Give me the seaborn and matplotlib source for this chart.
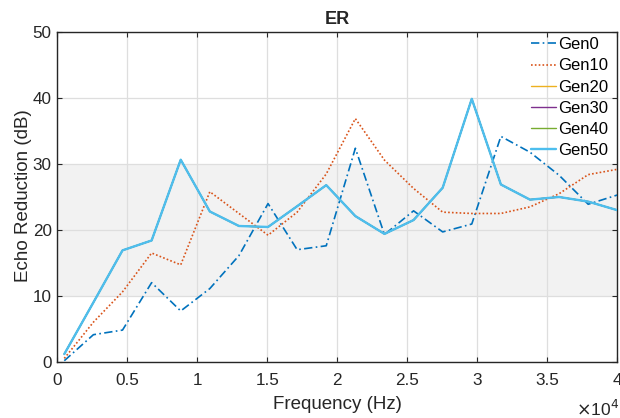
import numpy as np
import pandas as pd
import matplotlib
matplotlib.use("Agg")
import matplotlib.pyplot as plt
from matplotlib.ticker import FixedLocator, FuncFormatter
import seaborn as sns

# Frequency sweep (Hz)
freq = np.linspace(500, 40000, 20)

gen0 = [0.15, 4.1, 4.8, 12.0, 7.7, 11.1, 16.1, 24.0, 17.0, 17.6,
        32.4, 19.3, 22.9, 19.7, 20.9, 34.2, 31.8, 28.3, 23.9, 25.3]
gen10 = [0.5, 6.0, 10.6, 16.5, 14.7, 25.8, 22.5, 19.2, 22.7, 28.5,
         36.9, 30.6, 26.3, 22.7, 22.5, 22.5, 23.5, 25.5, 28.4, 29.2]
gen20 = [1.16, 9.0, 16.9, 18.4, 30.66, 22.8, 20.6, 20.45, 23.6, 26.8,
         22.1, 19.4, 21.5, 26.4, 39.9, 26.9, 24.6, 25.0, 24.3, 23.0]
gen30 = list(gen20)
gen40 = list(gen20)
gen50 = list(gen20)

series_names = ["Gen0", "Gen10", "Gen20", "Gen30", "Gen40", "Gen50"]
series_values = [gen0, gen10, gen20, gen30, gen40, gen50]

x_ticks = [0, 5000, 10000, 15000, 20000, 25000, 30000, 35000, 40000]
y_ticks = [0, 10, 20, 30, 40, 50]

colors = {"Gen0": "#0072BD", "Gen10": "#D95319", "Gen20": "#EDB120",
          "Gen30": "#7E2F8E", "Gen40": "#77AC30", "Gen50": "#4DBEEE"}
styles = {"Gen0": (0, (5, 2, 1, 2)), "Gen10": (0, (1, 1.3)),
          "Gen20": "-", "Gen30": "-", "Gen40": "-", "Gen50": "-"}
widths = {"Gen0": 1.2, "Gen10": 1.2, "Gen20": 1.0, "Gen30": 1.0,
          "Gen40": 1.0, "Gen50": 1.7}

sns.set_theme(style="white")
plt.rcParams["font.family"] = ["Liberation Sans", "DejaVu Sans"]
text_color = "#262626"

W, H = 620, 418
fig = plt.figure(figsize=(W / 100, H / 100), dpi=100)
ax = fig.add_axes([57.3 / W, 1 - 361.7 / H, 560 / W, (361.7 - 32.3) / H])

# shaded target band
ax.axhspan(10, 30, color="#f2f2f2", zorder=0, lw=0)

for name, vals in zip(series_names, series_values):
    df = pd.DataFrame({"Frequency": freq, "ER": vals})
    sns.lineplot(data=df, x="Frequency", y="ER", ax=ax, color=colors[name],
                 linestyle=styles[name], linewidth=widths[name], label=name,
                 zorder=3)

ax.set_xlim(0, 40000)
ax.set_ylim(0, 50)
ax.xaxis.set_major_locator(FixedLocator(x_ticks))
ax.yaxis.set_major_locator(FixedLocator(y_ticks))
ax.xaxis.set_major_formatter(FuncFormatter(lambda v, p: f"{v / 1e4:g}"))
ax.grid(True, color="#dedede", linewidth=0.9, zorder=1)
ax.set_axisbelow(True)

for sp in ax.spines.values():
    sp.set_color(text_color)
    sp.set_linewidth(1.0)
    sp.set_visible(True)

ax.tick_params(axis="both", which="both", direction="in", length=3.6,
               width=0.8, colors=text_color, labelsize=12.3,
               top=True, right=True, bottom=True, left=True)
ax.tick_params(axis="x", pad=8)
ax.tick_params(axis="y", pad=4)

ax.set_xlabel("Frequency (Hz)", fontsize=13.5, color=text_color)
ax.set_ylabel("Echo Reduction (dB)", fontsize=13.5, color=text_color)
ax.xaxis.set_label_coords(0.501, -0.104)
ax.yaxis.set_label_coords(-0.045, 0.505)
ax.set_title("ER", fontsize=13, fontweight="bold", color=text_color, pad=6)

fig.text(619 / W, 2 / H, r"$\times$10$^{4}$", ha="right", va="baseline",
         fontsize=12.5, color=text_color)

leg = ax.legend(loc="upper right", frameon=False, fontsize=12,
                handlelength=1.5, handletextpad=0.12, labelspacing=0.37,
                borderaxespad=0.0, borderpad=0.0,
                bbox_to_anchor=((608 - 57.3) / 560, 0.985))
for t in leg.get_texts():
    t.set_color("black")

fig.savefig("out.png", dpi=100)
